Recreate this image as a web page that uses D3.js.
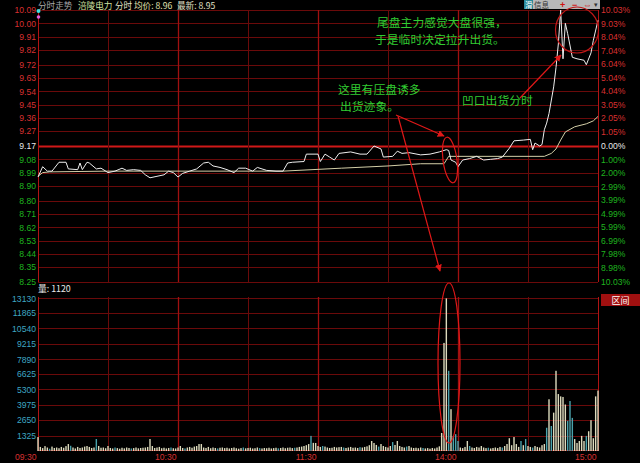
<!DOCTYPE html>
<html><head><meta charset="utf-8">
<script src="https://cdn.jsdelivr.net/npm/d3@7"></script>
<style>body{margin:0;background:#000;overflow:hidden}svg{display:block}</style>
</head><body><svg id="c" width="640" height="463"></svg>
<script>
// ---------- data ----------
const prevClose = 9.17;
const priceTicks = [10.09,10.00,9.91,9.82,9.72,9.63,9.54,9.45,9.36,9.27,9.17,9.08,8.99,8.90,8.80,8.71,8.62,8.53,8.44,8.35,8.25];
const pctTicks = [10.03,9.03,8.04,7.04,6.04,5.04,4.04,3.05,2.05,1.05,0,-1.00,-2.00,-2.99,-3.99,-4.99,-5.99,-6.99,-7.98,-8.98,-10.03];
const volTicks = [1325,2650,3975,5300,6625,7890,9215,10540,11865,13130];
const timeTicks = [0,60,120,180,240];
const timeLabels = ["09:30","10:30","11:30","14:00","15:00"];
const minorTimes = [30,90,150,210];

const priceMinutes = [0,2,4,6,9,12,13,17,18,19,21,22,25,27,30,33,36,38,41,44,46,48,51,54,56,58,60,62,65,68,71,73,75,78,81,84,86,89,92,94,98,102,105,107,109,114,115,120,121,123,125,127,129,134,138,141,144,147,148,152,154,156,159,164,168,172,175,176,177,179,180,182,185,188,191,194,197,199,202,204,208,211,212,213,215,216,217,218,219,221,222,223,224,225,226,227,229,231,234,235,237,238,240];
const priceValues = [8.96,9.03,9.00,9.00,9.06,9.06,9.015,9.01,9.055,9.01,9.06,9.055,9.015,9.02,8.99,9.00,9.02,9.005,9.01,9.005,8.975,8.955,8.965,8.975,9.00,8.99,8.96,8.985,9.00,9.015,9.055,9.06,9.035,9.025,9.01,8.99,9.02,9.02,9.00,9.025,9.005,9.00,9.00,9.055,9.06,9.065,9.115,9.115,9.065,9.115,9.095,9.075,9.12,9.13,9.115,9.115,9.17,9.15,9.095,9.10,9.135,9.12,9.125,9.11,9.115,9.13,9.145,9.14,9.075,9.06,9.03,9.075,9.085,9.10,9.075,9.08,9.085,9.095,9.155,9.205,9.21,9.215,9.145,9.19,9.17,9.18,9.28,9.325,9.39,9.57,9.70,9.86,10.09,9.76,10.00,9.93,9.77,9.76,9.75,9.72,9.80,9.885,10.02];

const avgMinutes = [0,2,5,30,105,130,150,164,174,176,217,220,222,224,226,230,235,238,240];
const avgValues = [8.965,8.99,8.995,9.00,9.00,9.02,9.035,9.05,9.05,9.10,9.10,9.12,9.15,9.21,9.265,9.30,9.32,9.34,9.37];

const volumes = [
1200,350,250,420,300,200,380,260,300,240,
350,280,420,600,450,300,220,350,260,300,
380,430,350,260,300,1030,430,280,300,240,
430,260,220,300,250,200,280,230,300,260,
220,250,300,230,260,280,300,350,1030,430,
260,300,350,240,280,220,260,300,240,220,
300,430,260,220,300,350,280,380,430,600,
600,300,260,350,240,300,260,220,280,300,
250,280,220,260,300,240,200,250,300,230,
260,280,220,240,300,250,220,260,240,280,
220,250,280,230,260,300,240,280,300,250,
280,300,350,380,430,500,600,1300,700,690,
430,350,430,380,300,260,280,350,300,330,
350,300,260,300,350,280,300,260,330,300,
350,400,500,860,690,520,380,600,430,350,
300,430,770,520,860,430,350,300,380,430,
300,260,280,240,300,260,220,250,200,260,
220,300,400,1550,9300,13130,6900,3600,1300,1450,
860,300,250,350,860,430,300,260,350,300,
430,300,250,280,220,260,300,250,350,300,
430,600,1100,500,1200,600,350,860,500,1030,
430,350,300,430,350,300,500,600,2000,4450,
2150,3300,6900,4900,4700,4650,4000,2600,4300,2850,
1030,690,860,1300,860,1300,1700,2650,1100,4700,5200];
const downBars = [5,14,25,33,40,57,63,77,88,95,103,110,117,122,131,138,146,152,158,165,176,178,179,180,185,193,199,207,209,212,218,220,227,228,229,235];

// ---------- drawing ----------
const svg = d3.select("#c");
svg.append("rect").attr("width",640).attr("height",463).attr("fill","#000");
const NUM = "'Liberation Sans', Arial, sans-serif";
const CJK = "'Noto Sans CJK SC', sans-serif";

const x = d3.scaleLinear().domain([0,240]).range([38,598]);
const y = d3.scaleLinear().domain([8.25,10.09]).range([282,10]);
const yp = d3.scaleLinear().domain([-10.03,10.03]).range([282,10]);
const v = d3.scaleLinear().domain([0,13250]).range([451,297]);

const grid = svg.append("g");
const dim = "#6a0a0a", mid = "#a01010";
priceTicks.forEach(t=>{
  const isRef = Math.abs(t-prevClose)<1e-6;
  grid.append("line").attr("x1",38).attr("x2",598).attr("y1",Math.round(y(t))+0.5).attr("y2",Math.round(y(t))+0.5)
    .attr("stroke", isRef ? "#d01818" : dim).attr("stroke-width", isRef?2:1);
});
volTicks.forEach(t=>{
  grid.append("line").attr("x1",38).attr("x2",598).attr("y1",Math.round(v(t))+0.5).attr("y2",Math.round(v(t))+0.5)
    .attr("stroke",dim);
});
grid.append("line").attr("x1",38).attr("x2",598).attr("y1",450.5).attr("y2",450.5).attr("stroke",mid);
[[10,282],[297,451]].forEach(([a,b])=>{
  minorTimes.forEach(m=>grid.append("line").attr("x1",Math.round(x(m))+0.5).attr("x2",Math.round(x(m))+0.5).attr("y1",a).attr("y2",b).attr("stroke",dim));
  timeTicks.forEach(m=>grid.append("line").attr("x1",Math.round(x(m))+0.5).attr("x2",Math.round(x(m))+0.5).attr("y1",a).attr("y2",b).attr("stroke", (m===0||m===240)? "#b01414" : mid).attr("stroke-width", (m===0||m===240)?1:1.3));
});

const colorFor = d => d>prevClose+1e-6 ? "#d83030" : (d<prevClose-1e-6 ? "#1fb41f" : "#e8e8e8");
const gl = svg.append("g").attr("transform","translate(37,0)")
  .call(d3.axisLeft(y).tickValues(priceTicks).tickSize(0).tickPadding(1).tickFormat(d3.format(".2f")));
gl.select(".domain").remove();
gl.selectAll("text").attr("font-family",NUM).attr("font-size",8.6).attr("fill",d=>colorFor(d));

const gr = svg.append("g").attr("transform","translate(600,0)")
  .call(d3.axisRight(yp).tickValues(pctTicks).tickSize(0).tickPadding(1).tickFormat(d=>Math.abs(d).toFixed(2)+"%"));
gr.select(".domain").remove();
gr.selectAll("text").attr("font-family",NUM).attr("font-size",8.6)
  .attr("fill",d=> d>0 ? "#d83030" : (d<0 ? "#1fb41f" : "#e8e8e8"));

const gv = svg.append("g").attr("transform","translate(37,0)")
  .call(d3.axisLeft(v).tickValues(volTicks).tickSize(0).tickPadding(1).tickFormat(d3.format("d")));
gv.select(".domain").remove();
gv.selectAll("text").attr("font-family",NUM).attr("font-size",8.6).attr("fill","#3ea6c2");

const gt = svg.append("g").attr("transform","translate(0,452)")
  .call(d3.axisBottom(x).tickValues(timeTicks).tickSize(0).tickPadding(2).tickFormat((d,i)=>timeLabels[i]));
gt.select(".domain").remove();
gt.selectAll("text").attr("font-family",NUM).attr("font-size",8.6).attr("fill","#d83030")
  .attr("text-anchor","end").attr("dx",-2);

const downSet = new Set(downBars);
svg.append("g").selectAll("rect").data(volumes).join("rect")
  .attr("x",(d,i)=>x(i)-0.7).attr("width",1.4)
  .attr("y",d=>v(d)).attr("height",d=>v(0)-v(d))
  .attr("fill",(d,i)=>downSet.has(i) ? "#4aa2ac" : "#dcdabc");

const priceData = priceMinutes.map((m,i)=>[m,priceValues[i]]);
const avgData = avgMinutes.map((m,i)=>[m,avgValues[i]]);
const line = d3.line().x(d=>x(d[0])).y(d=>y(d[1]));
svg.append("path").datum(avgData).attr("d",line).attr("fill","none").attr("stroke","#d4cfa8").attr("stroke-width",1);
svg.append("path").datum(priceData).attr("d",line).attr("fill","none").attr("stroke","#eeeeee").attr("stroke-width",1);

svg.append("circle").attr("cx",38.5).attr("cy",11).attr("r",2).attr("fill","#40e0e0");
svg.append("circle").attr("cx",38.5).attr("cy",17).attr("r",1.8).attr("fill","#e060e0");

const hdr = [["分时走势",38,"#a8a8a8"],["涪陵电力",78,"#cfe0a0"],["分时",115,"#e0e0c8"],["均价: 8.96",134,"#e0e0b0"],["最新: 8.95",177,"#e0e0c8"]];
hdr.forEach(([t,xx,c])=>svg.append("text").attr("x",xx).attr("y",8.5).attr("font-family",CJK).attr("font-size",8.6).attr("fill",c).text(t));

const tb = svg.append("g");
tb.append("rect").attr("x",524).attr("y",0).attr("width",76).attr("height",9).attr("fill","#b8b8b8");
tb.append("rect").attr("x",524).attr("y",0).attr("width",9).attr("height",9).attr("fill","#2a8a9a");
tb.append("text").attr("x",525).attr("y",7.5).attr("font-family",CJK).attr("font-size",7.5).attr("fill","#fff").text("滑");
tb.append("text").attr("x",534).attr("y",7.5).attr("font-family",CJK).attr("font-size",7.5).attr("fill","#333").text("信息");
[["+",560],["−",572],["⇔",583]].forEach(([t,xx])=>tb.append("text").attr("x",xx).attr("y",8).attr("font-family",NUM).attr("font-size",9).attr("font-weight","bold").attr("fill","#d01010").text(t));
tb.append("text").attr("x",594).attr("y",7).attr("font-family",NUM).attr("font-size",7).attr("fill","#333").text("▾");

svg.append("text").attr("x",38).attr("y",292).attr("font-family",CJK).attr("font-size",8.8).attr("fill","#e8e8e8").text("量: 1120");
svg.append("rect").attr("x",601).attr("y",294).attr("width",39).attr("height",12).attr("fill","#a01010");
svg.append("text").attr("x",620.5).attr("y",303.5).attr("text-anchor","middle").attr("font-family",CJK).attr("font-size",9).attr("fill","#fff").text("区间");

const green = "#32cc32";
[["尾盘主力感觉大盘很强，",377,27],["于是临时决定拉升出货。",375,44],["这里有压盘诱多",338,94],["出货迹象。",340,111],["凹口出货分时",462,105]]
 .forEach(([t,xx,yy])=>svg.append("text").attr("x",xx).attr("y",yy).attr("font-family",CJK).attr("font-size",11.8).attr("fill",green).text(t));

const red = "#e01818";
const defs = svg.append("defs");
defs.append("marker").attr("id","ah").attr("viewBox","0 0 10 10").attr("refX",9).attr("refY",5)
  .attr("markerWidth",7).attr("markerHeight",7).attr("orient","auto").attr("markerUnits","userSpaceOnUse")
  .append("path").attr("d","M0,0L10,5L0,10z").attr("fill",red);
const ann = svg.append("g").attr("stroke",red).attr("fill","none").attr("stroke-width",1.2);
ann.append("line").attr("x1",396).attr("y1",115).attr("x2",444).attr("y2",136).attr("marker-end","url(#ah)");
ann.append("line").attr("x1",398).attr("y1",116).attr("x2",440).attr("y2",271).attr("marker-end","url(#ah)");
ann.append("line").attr("x1",520).attr("y1",98).attr("x2",561).attr("y2",55).attr("marker-end","url(#ah)");
ann.append("ellipse").attr("cx",450).attr("cy",160).attr("rx",7).attr("ry",23).attr("transform","rotate(-8,450,160)");
ann.append("ellipse").attr("cx",577).attr("cy",30).attr("rx",21.5).attr("ry",23).attr("stroke","#c01818");
ann.append("ellipse").attr("cx",449).attr("cy",363).attr("rx",11).attr("ry",80);
</script></body></html>
